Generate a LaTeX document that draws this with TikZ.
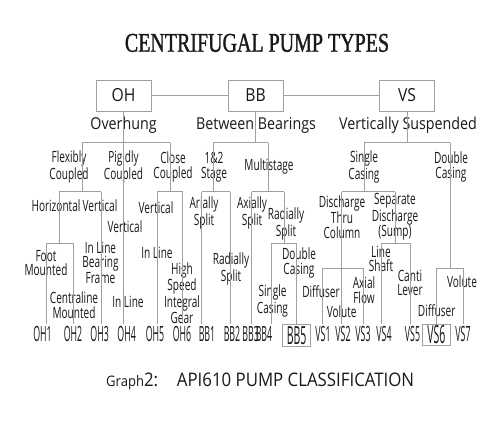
\documentclass[tikz,border=0pt]{standalone}
\usepackage{fontspec}
\setmainfont{Open Sans}
\newfontfamily\fTitle{Liberation Serif}[FakeStretch=0.74,FakeBold=1.2]
\newfontfamily\fTop{Open Sans}[FakeStretch=0.87]
\newfontfamily\fLab{Open Sans}[FakeStretch=0.65]
\newfontfamily\fBot{Open Sans}[FakeStretch=0.42]
\newfontfamily\fCap{Open Sans}[FakeStretch=0.90]
\definecolor{lin}{RGB}{160,160,160}
\definecolor{txt}{RGB}{25,25,25}
\tikzset{
  ln/.style={draw=lin, line width=0.8pt},
  topbox/.style={draw=lin, line width=0.8pt, minimum width=55pt, minimum height=31pt, inner sep=0pt, text=txt, font=\fTop\fontsize{18}{18}\selectfont},
  toplbl/.style={inner sep=0pt, text=txt, font=\fTop\fontsize{16.4}{18}\selectfont},
  lbl/.style={inner sep=0pt, align=center, text=txt, font=\fLab\fontsize{15.5}{14.5}\selectfont},
  botlbl/.style={inner sep=0pt, anchor=base, text=txt, font=\fBot\fontsize{21}{21}\selectfont},
  botbox/.style={draw=lin, line width=0.8pt, inner sep=0pt, text=txt, font=\fBot\fontsize{25}{25}\selectfont}
}
\begin{document}
\begin{tikzpicture}[x=1pt,y=-1pt]
\fill[white] (0,0) rectangle (500,420);
\useasboundingbox (0,0) rectangle (500,420);

% title
\node[anchor=base, inner sep=0pt, text=txt, font=\fTitle\fontsize{27}{27}\selectfont] (title) at (257,51.7) {CENTRIFUGAL PUMP TYPES};

% top boxes
\node[topbox] (OH) at (123.5,95.5) {OH};
\node[topbox] (BB) at (255.5,95.5) {BB};
\node[topbox] (VS) at (407,95.5) {VS};

\node[toplbl] (overhung) at (123.5,125.5) {Overhung};
\node[toplbl] (between) at (256,125.5) {Between Bearings};
\node[toplbl] (vertsusp) at (408,125.5) {Vertically Suspended};

% second row
\node[lbl] (flex) at (69,167) {Flexibly\\Coupled};
\node[lbl] (pig) at (123.5,167) {Pigidly\\Coupled};
\node[lbl] (close) at (173,167) {Close\\Coupled};
\node[lbl] (stage) at (214,167) {1\&2\\Stage};
\node[lbl] (multi) at (269,166) {Multistage};
\node[lbl] (single) at (364,167) {Single\\Casing};
\node[lbl] (double) at (451,167) {Double\\Casing};

% third row
\node[lbl] (horiz) at (56,206) {Horizontal};
\node[lbl] (vert1) at (100,206) {Vertical};
\node[lbl] (vert2) at (125,227) {Vertical};
\node[lbl] (vert3) at (156,208) {Vertical};
\node[lbl] (arial) at (204,213) {Arially\\Split};
\node[lbl] (axial) at (252,213) {Axially\\Split};
\node[lbl] (radial) at (286,224) {Radially\\Split};
\node[lbl] (dtc) at (342,217) {Discharge\\Thru\\Column};
\node[lbl] (sep) at (395,217) {Separate\\Discharge\\(Sump)};

% fourth row
\node[lbl] (foot) at (46,263) {Foot\\Mounted};
\node[lbl] (ilbf) at (100.5,263) {In Line\\Bearing\\Frame};
\node[lbl] (inline5) at (157,253) {In Line};
\node[lbl] (central) at (74,305) {Centraline\\Mounted};
\node[lbl] (inline4) at (128,302) {In Line};
\node[lbl] (hsig) at (182,293) {High\\Speed\\Integral\\Gear};
\node[lbl] (radial2) at (231,269) {Radially\\Split};
\node[lbl] (dcas) at (299,263) {Double\\Casing};
\node[lbl] (scas) at (272.5,301) {Single\\Casing};
\node[lbl] (diff1) at (321,292) {Diffuser};
\node[lbl] (vol2) at (341.7,312) {Volute};
\node[lbl] (axf) at (364,290) {Axial\\Flow};
\node[lbl] (ls) at (381,259) {Line\\Shaft};
\node[lbl] (cl) at (410,283) {Canti\\Lever};
\node[lbl] (diff6) at (436.7,311) {Diffuser};
\node[lbl] (vol7) at (462,282) {Volute};

% bottom labels
\node[botlbl] (OH1) at (42.5,341.7) {OH1};
\node[botlbl] (OH2) at (73,341.7) {OH2};
\node[botlbl] (OH3) at (99.7,341.7) {OH3};
\node[botlbl] (OH4) at (126.7,341.7) {OH4};
\node[botlbl] (OH5) at (155,341.7) {OH5};
\node[botlbl] (OH6) at (182,341.7) {OH6};
\node[botlbl] (BB1) at (207,341.7) {BB1};
\node[botlbl] (BB2) at (232,341.7) {BB2};
\node[botlbl] (BB3) at (250.7,341.7) {BB3};
\node[botlbl] (BB4) at (264,341.7) {BB4};
\node[botbox, minimum width=28.4pt, minimum height=22.7pt] (BB5) at (296.6,335.4) {BB5};
\node[botlbl] (VS1) at (323,341.7) {VS1};
\node[botlbl] (VS2) at (343,341.7) {VS2};
\node[botlbl] (VS3) at (363,341.7) {VS3};
\node[botlbl] (VS4) at (384,341.7) {VS4};
\node[botlbl] (VS5) at (412.5,341.7) {VS5};
\node[botbox, minimum width=27.7pt, minimum height=21.5pt] (VS6) at (436.4,335) {VS6};
\node[botlbl] (VS7) at (463,341.7) {VS7};

% caption
\node[anchor=base west, inner sep=0pt, text=txt, font=\fCap\fontsize{18.7}{18.7}\selectfont] (cap1) at (106,386.7) {{\fontsize{14.5}{14.5}\selectfont Graph}2:};
\node[anchor=base west, inner sep=0pt, text=txt, font=\fCap\fontsize{18.7}{18.7}\selectfont] (cap2) at (176.7,386.7) {API610 PUMP CLASSIFICATION};

% ---------- connectors ----------
\draw[ln] (OH.east) -- (BB.west);
\draw[ln] (BB.east) -- (VS.west);

% OH
\coordinate (ohL) at (82,142.7);
\coordinate (ohR) at (170,142.7);
\coordinate (eOH1) at (46,324);
\coordinate (eOH2) at (73.3,324);
\coordinate (eOH3) at (101,324);
\coordinate (eOH4) at (123.5,324);
\coordinate (eOH5) at (157.3,324);
\coordinate (eOH6) at (182.7,324);
\draw[ln] (ohL) -- (ohR);
\draw[ln] (OH.south) -- (eOH4);
\coordinate (fcT) at (82,191.7);
\coordinate (fcL) at (59.3,191.7);
\coordinate (fcR) at (101,191.7);
\draw[ln] (ohL) -- (fcT);
\draw[ln] (fcL) -- (fcR);
\coordinate (hzT) at (59.3,243.3);
\coordinate (hzL) at (46,243.3);
\coordinate (hzR) at (73.3,243.3);
\draw[ln] (fcL) -- (hzT);
\draw[ln] (hzL) -- (hzR);
\draw[ln] (hzL) -- (eOH1);
\draw[ln] (hzR) -- (eOH2);
\draw[ln] (fcR) -- (eOH3);
\coordinate (ccT) at (170,191.7);
\coordinate (ccL) at (157.3,191.7);
\coordinate (ccR) at (182.7,191.7);
\draw[ln] (ohR) -- (ccT);
\draw[ln] (ccL) -- (ccR);
\draw[ln] (ccL) -- (eOH5);
\draw[ln] (ccR) -- (eOH6);

% BB
\coordinate (bbL) at (213.3,142.7);
\coordinate (bbM) at (255.5,142.7);
\coordinate (bbR) at (268.3,142.7);
\draw[ln] (BB.south) -- (bbM);
\draw[ln] (bbL) -- (bbR);
\coordinate (stT) at (213.3,191.7);
\coordinate (stL) at (201.7,191.7);
\coordinate (stR) at (230.3,191.7);
\coordinate (eBB1) at (201.7,324);
\coordinate (eBB2) at (230.3,324);
\draw[ln] (bbL) -- (stT);
\draw[ln] (stL) -- (stR);
\draw[ln] (stL) -- (eBB1);
\draw[ln] (stR) -- (eBB2);
\coordinate (msT) at (268.3,191.7);
\coordinate (msL) at (251.7,191.7);
\coordinate (msR) at (284,191.7);
\coordinate (eBB3) at (251.7,324);
\draw[ln] (bbR) -- (msT);
\draw[ln] (msL) -- (msR);
\draw[ln] (msL) -- (eBB3);
\coordinate (rsT) at (284,243.3);
\coordinate (rsL) at (271.7,243.3);
\coordinate (rsR) at (296.6,243.3);
\coordinate (eBB4) at (271.7,324);
\draw[ln] (msR) -- (rsT);
\draw[ln] (rsL) -- (rsR);
\draw[ln] (rsL) -- (eBB4);
\draw[ln] (rsR) -- (BB5.north);

% VS
\coordinate (vsL) at (364.3,142.7);
\coordinate (vsM) at (407,142.7);
\coordinate (vsR) at (450,142.7);
\draw[ln] (VS.south) -- (vsM);
\draw[ln] (vsL) -- (vsR);
\coordinate (scT) at (364.3,191.7);
\coordinate (scL) at (341.7,191.7);
\coordinate (scR) at (395,191.7);
\draw[ln] (vsL) -- (scT);
\draw[ln] (scL) -- (scR);
\coordinate (dtT) at (341.7,268.3);
\coordinate (dtL) at (322.7,268.3);
\coordinate (dtR) at (363.3,268.3);
\coordinate (eVS1) at (322.7,324);
\coordinate (eVS2) at (341.7,324);
\coordinate (eVS3) at (363.3,324);
\draw[ln] (scL) -- (dtT);
\draw[ln] (dtL) -- (dtR);
\draw[ln] (dtL) -- (eVS1);
\draw[ln] (dtT) -- (eVS2);
\draw[ln] (dtR) -- (eVS3);
\coordinate (sdT) at (395,243.3);
\coordinate (sdL) at (381,243.3);
\coordinate (sdR) at (410,243.3);
\coordinate (eVS4) at (381,324);
\coordinate (eVS5) at (410,324);
\draw[ln] (scR) -- (sdT);
\draw[ln] (sdL) -- (sdR);
\draw[ln] (sdL) -- (eVS4);
\draw[ln] (sdR) -- (eVS5);
\coordinate (dcT) at (450,268.3);
\coordinate (dcL) at (436.4,268.3);
\coordinate (dcR) at (463.3,268.3);
\coordinate (eVS7) at (463.3,324);
\draw[ln] (vsR) -- (dcT);
\draw[ln] (dcL) -- (dcR);
\draw[ln] (dcL) -- (VS6.north);
\draw[ln] (dcR) -- (eVS7);
\end{tikzpicture}
\end{document}
